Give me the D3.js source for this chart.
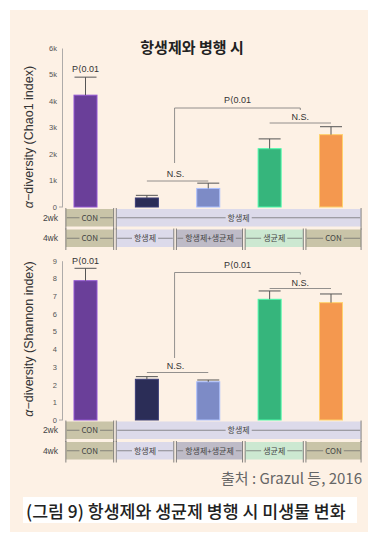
<!DOCTYPE html>
<html>
<head>
<meta charset="utf-8">
<script src="https://cdn.jsdelivr.net/npm/d3@7"></script>
<style>
  html, body { margin: 0; padding: 0; background: #fff; }
  svg { display: block; }
  text { font-family: "Noto Sans CJK KR", "Noto Sans", sans-serif; }
  text.num { font-family: "Liberation Sans", "DejaVu Sans", Arial, sans-serif; }
</style>
</head>
<body>
<svg id="chart" width="377" height="540"></svg>
<script>
// data
var groups = ['CON', '항생제', '항생제+생균제', '생균제', 'CON'];
var barColors = ['#6a3f99', '#2b2d57', '#7d8bc6', '#36b57c', '#f4984f'];

var chao1Mean = [4220, 340, 700, 2200, 2730];
var chao1Err = [680, 100, 200, 370, 300];
var chao1Ticks = [0, 1000, 2000, 3000, 4000, 5000, 6000];

var shannonMean = [7.87, 2.3, 2.16, 6.82, 6.63];
var shannonErr = [0.7, 0.15, 0.1, 0.47, 0.49];
var shannonTicks = [0, 1, 2, 3, 4, 5, 6, 7, 8, 9];

// treatment rows: segments cover group indexes
var row2wk = [
  { label: 'CON', from: 0, to: 0 },
  { label: '항생제', from: 1, to: 4 }
];
var row4wk = [
  { label: 'CON', from: 0, to: 0 },
  { label: '항생제', from: 1, to: 1 },
  { label: '항생제+생균제', from: 2, to: 2 },
  { label: '생균제', from: 3, to: 3 },
  { label: 'CON', from: 4, to: 4 }
];
var segFill = {
  'CON': '#c9c4a8',
  '항생제': '#dcdaea',
  '항생제+생균제': '#bebbc7',
  '생균제': '#cce8d1'
};

// layout
var svg = d3.select('#chart');
var W = 377, H = 540;
var edgeT = [-0.32, 0.48, 1.46, 2.58, 3.57, 4.49]; // segment borders, in group units

svg.append('rect').attr('width', W).attr('height', H).attr('fill', '#fff');
svg.append('rect').attr('x', 10).attr('y', 10).attr('width', 358).attr('height', 522).attr('fill', '#fdf1e5');

svg.append('text')
  .attr('x', 192).attr('y', 53)
  .attr('text-anchor', 'middle')
  .attr('font-size', 15).attr('font-weight', 'bold')
  .attr('fill', '#222')
  .text('항생제와 병행 시');

var x = d3.scaleLinear().domain([0, 4]).range([85.5, 331]);
var barW = 23;

function panel(opt) {
  var g = svg.append('g');
  var y = d3.scaleLinear().domain(opt.domain).range([opt.y0, opt.y1]);

  var axis = d3.axisLeft(y)
    .tickValues(opt.ticks)
    .tickFormat(opt.fmt)
    .tickSize(0)
    .tickPadding(5);
  var ax = g.append('g').attr('transform', 'translate(62,0)').call(axis);
  ax.select('.domain').attr('stroke', '#999').attr('stroke-width', 0.8);
  ax.selectAll('text').attr('class', 'num').attr('font-size', 7.5).attr('fill', '#555');
  ax.append('line').attr('x1', 0).attr('x2', -3).attr('y1', y(0)).attr('y2', y(0))
    .attr('stroke', '#999').attr('stroke-width', 0.8);

  g.append('text')
    .attr('class', 'num')
    .attr('transform', 'translate(33,' + opt.labelY + ') rotate(-90)')
    .attr('text-anchor', 'middle')
    .attr('font-size', 12.5).attr('fill', '#333')
    .html('<tspan font-style="italic">α</tspan>−diversity (' + opt.label + ')');

  // bars
  g.selectAll('rect.bar').data(opt.mean).enter().append('rect')
    .attr('class', 'bar')
    .attr('x', function (d, i) { return x(i) - barW / 2; })
    .attr('width', barW)
    .attr('y', function (d) { return y(d); })
    .attr('height', function (d) { return y(0) - y(d); })
    .attr('fill', function (d, i) { return barColors[i]; })
    .attr('stroke', function (d, i) { return d3.color(barColors[i]).brighter(0.9); })
    .attr('stroke-width', 1);

  // error bars
  var eb = g.selectAll('g.err').data(opt.mean).enter().append('g').attr('class', 'err');
  eb.append('line')
    .attr('x1', function (d, i) { return x(i); })
    .attr('x2', function (d, i) { return x(i); })
    .attr('y1', function (d) { return y(d); })
    .attr('y2', function (d, i) { return y(d + opt.err[i]); })
    .attr('stroke', '#555').attr('stroke-width', 1);
  eb.append('line')
    .attr('x1', function (d, i) { return x(i) - 11; })
    .attr('x2', function (d, i) { return x(i) + 11; })
    .attr('y1', function (d, i) { return y(d + opt.err[i]); })
    .attr('y2', function (d, i) { return y(d + opt.err[i]); })
    .attr('stroke', '#555').attr('stroke-width', 1);

  // significance marks
  var a = opt.ann;
  function lbl(tx, ty, s) {
    g.append('text').attr('x', tx).attr('y', ty).attr('text-anchor', 'middle')
      .attr('class', 'num').attr('font-size', 9).attr('fill', '#333').text(s);
  }
  function ln(x1, y1, x2, y2) {
    g.append('line').attr('x1', x1).attr('y1', y1).attr('x2', x2).attr('y2', y2)
      .attr('stroke', '#777').attr('stroke-width', 0.8);
  }
  lbl(x(0), a.p1, 'P⟨0.01');
  var bx0 = x(1.5) - 3, bx1 = x(3.5);
  ln(bx0, a.bigLine, bx1, a.bigLine);
  ln(bx0, a.bigLine, bx0, a.bigDrop);
  ln(bx1, a.bigLine, bx1, a.bigLine + 2);
  lbl((bx0 + bx1) / 2, a.bigLine - 5, 'P⟨0.01');
  ln(x(3), a.nsR, x(4), a.nsR);
  lbl(x(3.5), a.nsR - 3, 'N.S.');
  ln(x(1), a.nsL, x(2), a.nsL);
  lbl(x(1.5) - 2, a.nsL - 4, 'N.S.');

  // treatment rows
  drawRow(g, row2wk, '2wk', opt.rowTop, opt.rowTop + 17.5);
  drawRow(g, row4wk, '4wk', opt.rowTop + 20.5, opt.rowTop + 38);
}

function drawRow(g, segs, name, top, bot) {
  var mid = (top + bot) / 2;
  g.append('text').attr('x', 58).attr('y', mid + 3).attr('text-anchor', 'end')
    .attr('class', 'num').attr('font-size', 8.5).attr('fill', '#444').text(name);

  segs.forEach(function (s, k) {
    var x0 = x(edgeT[s.from]), x1 = x(edgeT[s.to + 1]);
    var l = k === 0 ? x0 : x0 + 1.3;
    var r = k === segs.length - 1 ? x1 : x1 - 1.3;
    g.append('rect').attr('x', l).attr('y', top).attr('width', r - l).attr('height', bot - top)
      .attr('fill', segFill[s.label]);
    g.append('line').attr('x1', l + 1).attr('x2', r - 1).attr('y1', mid).attr('y2', mid)
      .attr('stroke', '#666').attr('stroke-width', 0.7);
    var t = g.append('text').attr('x', (l + r) / 2).attr('y', mid + 3)
      .attr('text-anchor', 'middle').attr('font-size', 8).attr('fill', '#444')
      .text(s.label);
    var tw = t.node().getComputedTextLength();
    g.insert('rect', function () { return t.node(); })
      .attr('x', (l + r) / 2 - tw / 2 - 2).attr('y', mid - 4)
      .attr('width', tw + 4).attr('height', 8)
      .attr('fill', segFill[s.label]);
    [l, r].forEach(function (ex) {
      g.append('line').attr('x1', ex).attr('x2', ex).attr('y1', top - 1).attr('y2', bot + 3)
        .attr('stroke', '#666').attr('stroke-width', 0.8);
    });
  });
}

panel({
  domain: [0, 6000], y0: 207, y1: 48,
  ticks: chao1Ticks,
  fmt: function (d) { return d === 0 ? '0' : (d / 1000) + 'k'; },
  mean: chao1Mean, err: chao1Err,
  label: 'Chao1 index', labelY: 137,
  ann: { p1: 72, bigLine: 108, bigDrop: 163, nsR: 123, nsL: 181 },
  rowTop: 209
});

panel({
  domain: [0, 9], y0: 420, y1: 260.7,
  ticks: shannonTicks,
  fmt: function (d) { return String(d); },
  mean: shannonMean, err: shannonErr,
  label: 'Shannon index', labelY: 339,
  ann: { p1: 264, bigLine: 272.5, bigDrop: 358, nsR: 288.5, nsL: 372.5 },
  rowTop: 421.5
});

// source and caption
svg.append('text').attr('x', 362).attr('y', 484).attr('text-anchor', 'end')
  .attr('font-size', 15).attr('fill', '#666')
  .text('출처 : Grazul 등, 2016');

svg.append('rect').attr('x', 23).attr('y', 497).attr('width', 334).attr('height', 26).attr('fill', '#fff');
svg.append('text').attr('x', 26).attr('y', 518)
  .attr('font-size', 17.3).attr('font-weight', 500).attr('fill', '#222')
  .text('(그림 9) 항생제와 생균제 병행 시 미생물 변화');
</script>
</body>
</html>
